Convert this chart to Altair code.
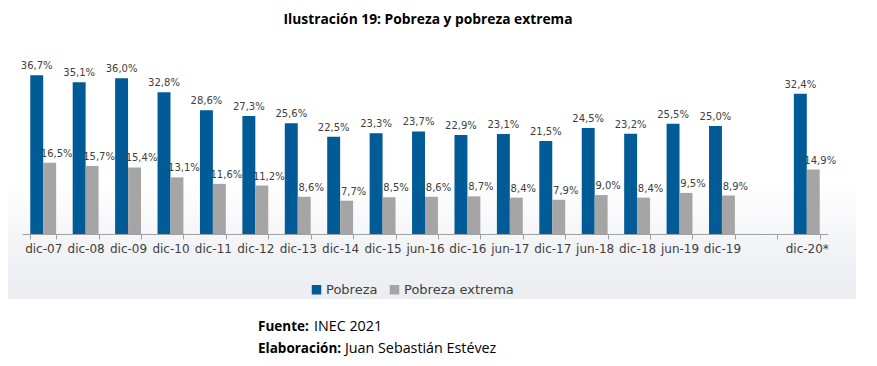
import altair as alt
import pandas as pd

# ---- data ----
categories = ["dic-07", "dic-08", "dic-09", "dic-10", "dic-11", "dic-12", "dic-13",
              "dic-14", "dic-15", "jun-16", "dic-16", "jun-17", "dic-17", "jun-18",
              "dic-18", "jun-19", "dic-19", "dic-20*"]
pobreza = [36.7, 35.1, 36.0, 32.8, 28.6, 27.3, 25.6, 22.5, 23.3, 23.7, 22.9, 23.1,
           21.5, 24.5, 23.2, 25.5, 25.0, 32.4]
pobreza_extrema = [16.5, 15.7, 15.4, 13.1, 11.6, 11.2, 8.6, 7.7, 8.5, 8.6, 8.7, 8.4,
                   7.9, 9.0, 8.4, 9.5, 8.9, 14.9]
series = ["Pobreza", "Pobreza extrema"]
colors = ["#005B96", "#A5A5A5"]
blank = " "
axis_domain = categories[:-1] + [blank] + categories[-1:]

title_text = "Ilustración 19: Pobreza y pobreza extrema"
footer_bold = ["Fuente:", "Elaboración:"]
footer_regular = ["INEC 2021", "Juan Sebastián Estévez"]

rows = []
for c, p, e in zip(categories, pobreza, pobreza_extrema):
    for s, v in zip(series, [p, e]):
        rows.append({"cat": c, "serie": s, "value": v,
                     "label": f"{v:.1f}".replace(".", ",") + "%"})
df = pd.DataFrame(rows)

FONT = "DejaVu Sans"

x_enc = alt.X("cat:N", sort=axis_domain,
              scale=alt.Scale(domain=axis_domain, paddingInner=0.39, paddingOuter=0.195),
              axis=alt.Axis(title=None, labelAngle=0, tickBand="extent", ticks=True,
                            tickSize=5, tickColor="#A0A0A0", domainColor="#A0A0A0",
                            labelFont=FONT, labelFontSize=12, labelColor="#404040",
                            labelPadding=4, grid=False, zindex=2))
xo_enc = alt.XOffset("serie:N", scale=alt.Scale(domain=series, paddingInner=0, paddingOuter=0))
y_enc = alt.Y("value:Q", scale=alt.Scale(domain=[0, 40]), axis=None)

bg = alt.Chart(pd.DataFrame({"a": [0]})).mark_rect(
    fill=alt.Gradient(gradient="linear", x1=0, y1=0, x2=0, y2=1,
                      stops=[alt.GradientStop(offset=0, color="#FFFFFF"),
                             alt.GradientStop(offset=0.55, color="#FFFFFF"),
                             alt.GradientStop(offset=0.85, color="#F0F1F4"),
                             alt.GradientStop(offset=1, color="#ECEDF1")])
).encode(x=alt.value(-14), x2=alt.value(834), y=alt.value(-21), y2=alt.value(238))

bars = alt.Chart(df).mark_bar(cornerRadius=0).encode(
    x=x_enc, xOffset=xo_enc, y=y_enc,
    color=alt.Color("serie:N", scale=alt.Scale(domain=series, range=colors),
                    legend=alt.Legend(title=None, orient="none", direction="horizontal",
                                      legendX=288, legendY=222, symbolType="square",
                                      symbolSize=90, symbolStrokeWidth=0,
                                      labelFont=FONT, labelFontSize=13,
                                      labelColor="#404040", columnPadding=10,
                                      labelOffset=3))
)

lab_p = alt.Chart(df[df.serie == "Pobreza"]).mark_text(
    baseline="bottom", dy=-4, font=FONT, fontSize=10, color="#404040"
).encode(x=x_enc, xOffset=xo_enc, y=y_enc, text="label:N")

lab_e = alt.Chart(df[df.serie == "Pobreza extrema"]).mark_text(
    baseline="bottom", dy=-4, dx=7, font=FONT, fontSize=10, color="#404040"
).encode(x=x_enc, xOffset=xo_enc, y=y_enc, text="label:N")

FB = 13.5
FR = 14.3
fb = alt.Chart(pd.DataFrame({"t": [footer_bold[0]]})).mark_text(
    align="left", baseline="middle", font="Open Sans", fontSize=FB, fontWeight="bold", color="#000000"
).encode(x=alt.value(236), y=alt.value(266), text="t:N")
fr = alt.Chart(pd.DataFrame({"t": [footer_regular[0]]})).mark_text(
    align="left", baseline="middle", font="Open Sans", fontSize=FR, color="#000000"
).encode(x=alt.value(292), y=alt.value(266), text="t:N")
eb = alt.Chart(pd.DataFrame({"t": [footer_bold[1]]})).mark_text(
    align="left", baseline="middle", font="Open Sans", fontSize=FB, fontWeight="bold", color="#000000"
).encode(x=alt.value(236), y=alt.value(288), text="t:N")
er = alt.Chart(pd.DataFrame({"t": [footer_regular[1]]})).mark_text(
    align="left", baseline="middle", font="Open Sans", fontSize=FR, color="#000000"
).encode(x=alt.value(323), y=alt.value(288), text="t:N")

chart = alt.layer(bg, bars, lab_p, lab_e, fb, fr, eb, er).properties(
    width=806, height=173,
    title=alt.TitleParams(title_text, anchor="middle", frame="group", dx=3, offset=13,
                          font="Open Sans", fontSize=13.8, fontWeight="bold", color="#000000"),
    autosize=alt.AutoSizeParams(type="none"),
    padding={"left": 14, "top": 53, "right": 41, "bottom": 124},
).configure_view(stroke=None).configure(background="#FFFFFF")

chart.save("out.html", embed_options={"renderer": "svg", "actions": False})
